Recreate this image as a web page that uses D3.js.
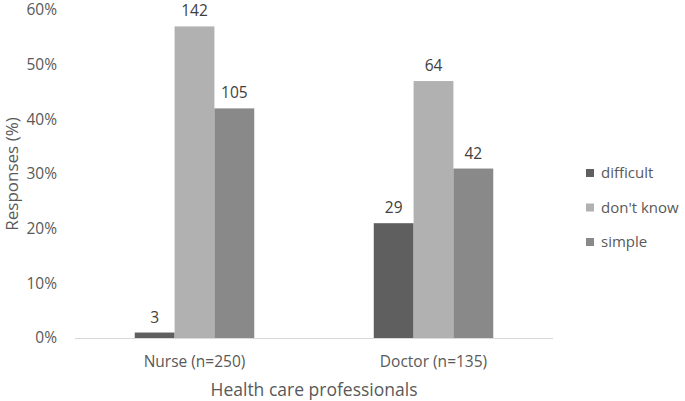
<!DOCTYPE html>
<html>
<head>
<meta charset="utf-8">
<script src="https://cdn.jsdelivr.net/npm/d3@7"></script>
<style>
  body { margin: 0; background: #fff; }
  text { font-family: "Open Sans", "Noto Sans", sans-serif; }
</style>
</head>
<body>
<svg width="685" height="401"></svg>
<script>
const categories = ['Nurse (n=250)', 'Doctor (n=135)']
const seriesNames = ['difficult', "don't know", 'simple']
const seriesColors = ['#5f5f5f', '#b1b1b1', '#898989']
// percent of responses per category, one array per series
const difficult = [1, 21]
const dontKnow = [57, 47]
const simple = [42, 31]
// counts shown above bars
const difficultN = [3, 29]
const dontKnowN = [142, 64]
const simpleN = [105, 42]
const yTicks = [0, 10, 20, 30, 40, 50, 60]

const values = [difficult, dontKnow, simple]
const counts = [difficultN, dontKnowN, simpleN]

const svg = d3.select('svg')
const plotLeft = 75, plotRight = 553, plotTop = 10, plotBottom = 338

const x0 = d3.scaleBand().domain(categories).range([plotLeft, plotRight])
const x1 = d3.scaleBand().domain(seriesNames)
  .range([0, x0.bandwidth()]).paddingOuter(1.5)
const y = d3.scaleLinear().domain([0, 60]).range([plotBottom, plotTop])

// y tick labels
svg.selectAll('.ytick').data(yTicks).enter()
  .append('text')
  .attr('x', 57).attr('y', d => y(d))
  .attr('dy', '0.35em')
  .attr('text-anchor', 'end')
  .attr('font-size', 15.5).attr('fill', '#595959')
  .text(d => d + '%')

const rows = []
categories.forEach((c, i) => {
  seriesNames.forEach((s, j) => {
    rows.push({ cat: c, s: s, v: values[j][i], n: counts[j][i], color: seriesColors[j] })
  })
})

svg.selectAll('.bar').data(rows).enter()
  .append('rect')
  .attr('x', d => x0(d.cat) + x1(d.s))
  .attr('y', d => y(d.v))
  .attr('width', x1.bandwidth())
  .attr('height', d => plotBottom - y(d.v))
  .attr('fill', d => d.color)

svg.selectAll('.lbl').data(rows).enter()
  .append('text')
  .attr('x', d => x0(d.cat) + x1(d.s) + x1.bandwidth() / 2)
  .attr('y', d => y(d.v) - 10)
  .attr('text-anchor', 'middle')
  .attr('font-size', 15.5).attr('fill', '#404040')
  .text(d => d.n)

// x axis line
svg.append('line')
  .attr('x1', plotLeft).attr('x2', plotRight)
  .attr('y1', plotBottom + 0.5).attr('y2', plotBottom + 0.5)
  .attr('stroke', '#d9d9d9').attr('stroke-width', 1)

svg.selectAll('.xlbl').data(categories).enter()
  .append('text')
  .attr('x', d => x0(d) + x0.bandwidth() / 2)
  .attr('y', 362).attr('dy', '0.35em')
  .attr('text-anchor', 'middle')
  .attr('font-size', 15.5).attr('fill', '#595959')
  .text(d => d)

svg.append('text')
  .attr('x', (plotLeft + plotRight) / 2).attr('y', 390).attr('dy', '0.35em')
  .attr('text-anchor', 'middle')
  .attr('font-size', 17.5).attr('fill', '#595959')
  .text('Health care professionals')

svg.append('text')
  .attr('transform', 'translate(12,174) rotate(-90)')
  .attr('dy', '0.35em')
  .attr('text-anchor', 'middle')
  .attr('font-size', 17).attr('fill', '#595959')
  .text('Responses (%)')

// legend
const legend = svg.selectAll('.leg').data(seriesNames).enter()
  .append('g')
  .attr('transform', (d, i) => `translate(586,${173 + i * 34.5})`)
legend.append('rect')
  .attr('x', 0).attr('y', -4).attr('width', 8).attr('height', 8)
  .attr('fill', (d, i) => seriesColors[i])
legend.append('text')
  .attr('x', 15).attr('y', 0).attr('dy', '0.35em')
  .attr('font-size', 15).attr('fill', '#595959')
  .text(d => d)
</script>
</body>
</html>
